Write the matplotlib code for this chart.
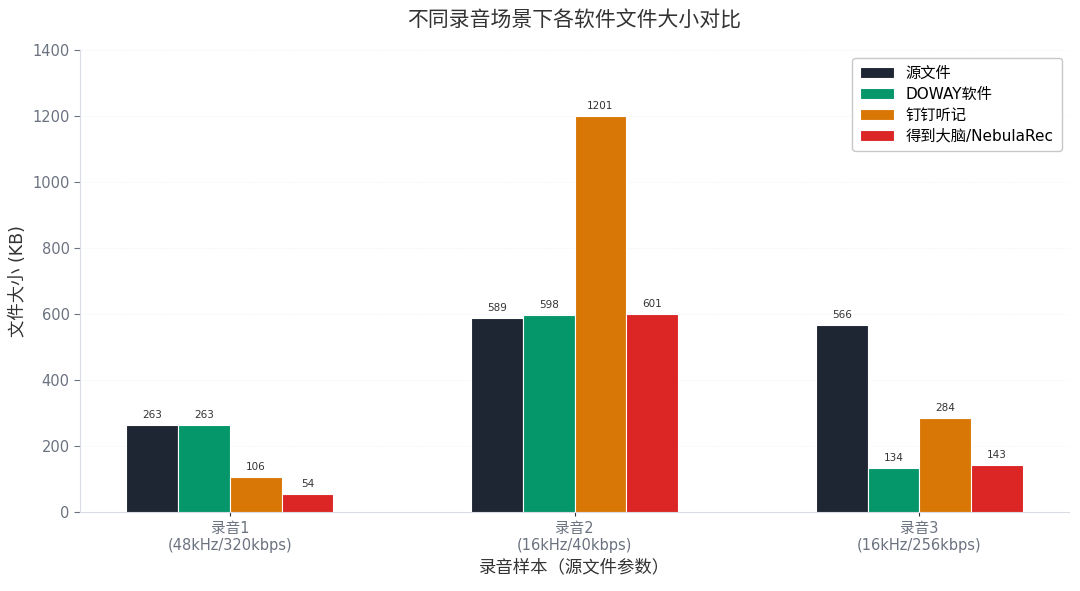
import matplotlib
matplotlib.use("Agg")
import matplotlib.pyplot as plt
import numpy as np

plt.rcParams['font.family'] = ['DejaVu Sans', 'Noto Sans CJK SC']

samples = ["录音1\n(48kHz/320kbps)", "录音2\n(16kHz/40kbps)", "录音3\n(16kHz/256kbps)"]
series_names = ["源文件", "DOWAY软件", "钉钉听记", "得到大脑/NebulaRec"]
source = [263, 589, 566]
doway = [263, 598, 134]
dingding = [106, 1201, 284]
nebula = [54, 601, 143]
colors = ["#1e2533", "#059669", "#d97706", "#dc2626"]

values = [source, doway, dingding, nebula]
x = np.arange(len(samples))
w = 0.15

fig, ax = plt.subplots(figsize=(10.8, 5.91), dpi=100)
fig.subplots_adjust(left=0.074, right=0.99, top=0.915, bottom=0.134)

for k, (name, vals, c) in enumerate(zip(series_names, values, colors)):
    pos = x + (k - 1.5) * w
    bars = ax.bar(pos, vals, w, color=c, label=name, edgecolor="white", linewidth=0.8, zorder=3)
    for b, v in zip(bars, vals):
        ax.text(b.get_x() + b.get_width() / 2, v + 15, str(v), ha="center", va="bottom",
                fontsize=7.5, color="#333333", zorder=4)

ax.set_xlim(-0.435, 2.435)
ax.set_ylim(0, 1400)
ax.set_yticks(range(0, 1401, 200))
ax.set_xticks(x)
ax.set_xticklabels(samples, fontsize=10.5, color="#6b7280")
ax.tick_params(axis="y", labelsize=10.5, labelcolor="#6b7280", color="#6b7280", length=4)
ax.tick_params(axis="x", color="#333333", length=3)

ax.yaxis.grid(True, linestyle="--", color="#eef0f3", alpha=0.5, linewidth=0.6, zorder=0)
ax.set_axisbelow(True)
for s in ["top", "right"]:
    ax.spines[s].set_visible(False)
for s in ["left", "bottom"]:
    ax.spines[s].set_color("#d9dde3")

ax.set_title("不同录音场景下各软件文件大小对比", fontsize=15, color="#333333", pad=17)
ax.set_ylabel("文件大小 (KB)", fontsize=12.5, color="#333333")
ax.set_xlabel("录音样本（源文件参数）", fontsize=12.5, color="#333333")

leg = ax.legend(loc="upper right", fontsize=11, frameon=True, fancybox=True,
                handlelength=2.2, borderpad=0.5, labelspacing=0.4)
leg.get_frame().set_edgecolor("#c8c8c8")
leg.get_frame().set_alpha(1.0)

fig.savefig("out.png", dpi=100)
